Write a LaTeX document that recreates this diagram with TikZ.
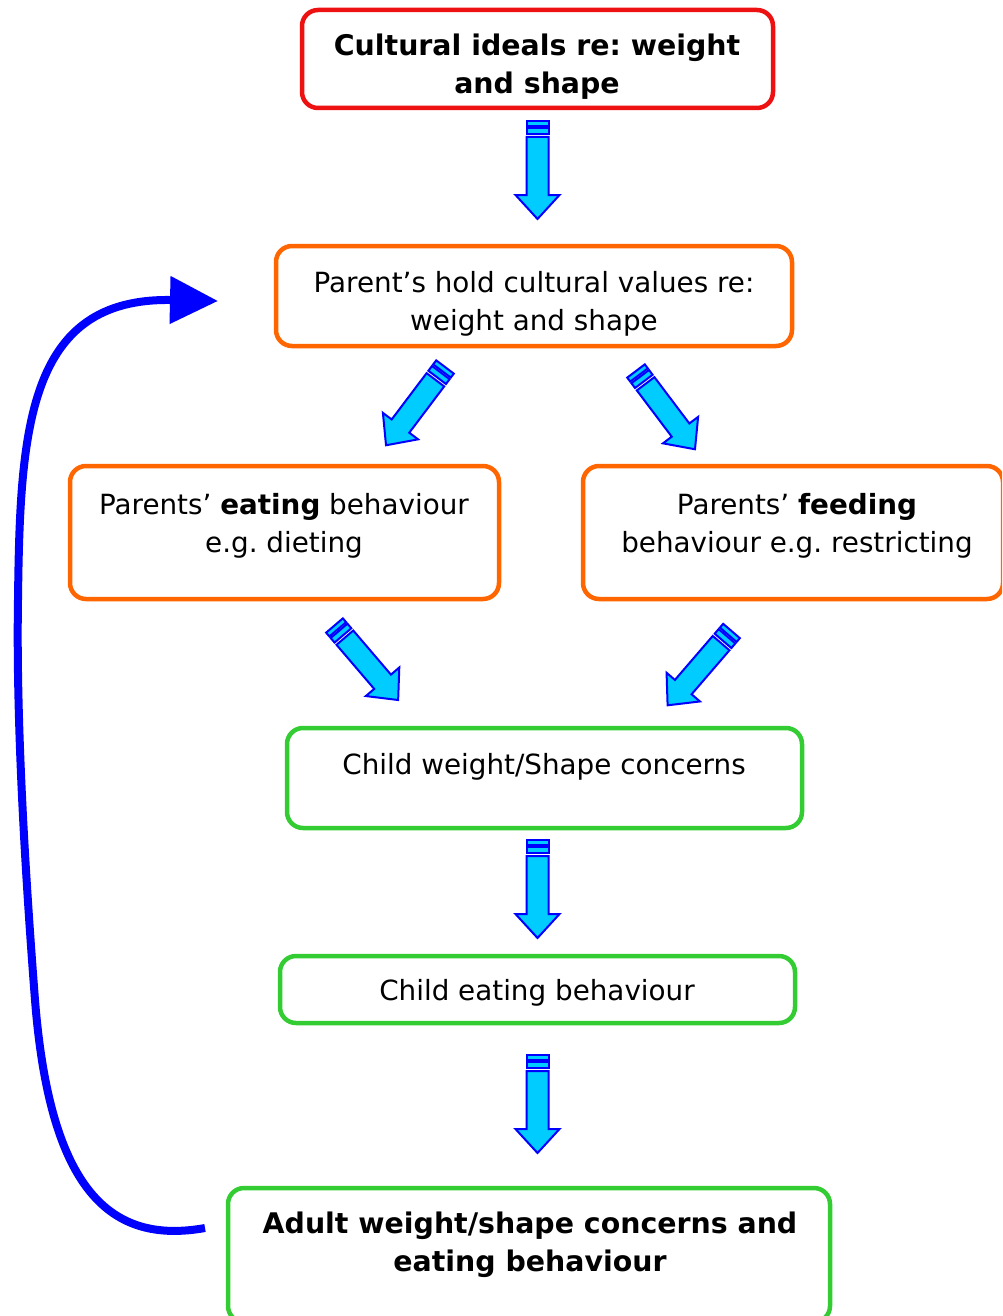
\documentclass[tikz,border=0pt]{standalone}
\usepackage{fontspec}
\setmainfont{DejaVu Sans}
\usetikzlibrary{arrows.meta}
\definecolor{cRed}{HTML}{EE1111}
\definecolor{cOrange}{HTML}{FF6600}
\definecolor{cGreen}{HTML}{33CC33}
\definecolor{cCyan}{HTML}{00CCFF}
\definecolor{cBlue}{HTML}{0000FF}
\frenchspacing
\begin{document}
\begin{tikzpicture}[x=1pt,y=-1pt,
  box/.style={draw=#1, line width=4.5pt, rounded corners=16pt, minimum width=0pt, inner sep=0pt},
  txt/.style={align=center, inner sep=0pt, font=\fontsize{27.8}{38}\selectfont},
  btxt/.style={align=center, inner sep=0pt, font=\fontsize{28.4}{38}\selectfont\bfseries},
  barrow/.style={draw=cBlue, fill=cCyan, line width=2pt, line join=miter},
  blockarr/.pic={
    \path[barrow] (-11,0) rectangle (11,5);
    \path[barrow] (-11,7) rectangle (11,13);
    \path[barrow] (-11,16) -- (-11,74) -- (-22,74) -- (0,98) -- (22,74) -- (11,74) -- (11,16) -- cycle;
  }]
\useasboundingbox (0,0) rectangle (1002,1316);
\clip (0,0) rectangle (1002,1316);

% boxes
\node[box=cRed, minimum width=471pt, minimum height=98pt] (cult) at (537.5,59) {};
\node[btxt] (cult-t) at (537,67) {Cultural ideals re: weight\\and shape};

\node[box=cOrange, minimum width=516pt, minimum height=100pt] (par) at (534,296) {};
\node[txt] (par-t) at (534,304) {Parent’s hold cultural values re:\\weight and shape};

\node[box=cOrange, minimum width=429pt, minimum height=133pt] (eat) at (284.5,532.5) {};
\node[txt] (eat-t) at (284,526) {Parents’ \textbf{eating} behaviour\\e.g. dieting};

\node[box=cOrange, minimum width=420pt, minimum height=133pt] (feed) at (793,532.5) {};
\node[txt] (feed-t) at (797,526) {Parents’ \textbf{feeding}\\behaviour e.g. restricting};

\node[box=cGreen, minimum width=515pt, minimum height=100pt] (cws) at (544.5,778) {};
\node[txt] (cws-t) at (544,767) {Child weight/Shape concerns};

\node[box=cGreen, minimum width=515pt, minimum height=67pt] (ceb) at (537.5,989.5) {};
\node[txt] (ceb-t) at (537,993) {Child eating behaviour};

\node[box=cGreen, minimum width=602pt, minimum height=134pt] (adult) at (529,1255) {};
\node[btxt] (adult-t) at (530,1245) {Adult weight/shape concerns and\\eating behaviour};

% block arrows
\pic at (537.5,121) {blockarr};
\pic[rotate=-37] at (445,367) {blockarr};
\pic[rotate=37] at (636,371) {blockarr};
\pic[rotate=40.5] at (334.5,625.5) {blockarr};
\pic[rotate=-40.7] at (731.5,631) {blockarr};
\pic at (537.5,840) {blockarr};
\pic at (537.5,1055) {blockarr};

% feedback arrow
\coordinate (fbStart) at (205,1228);
\coordinate (fbEnd) at (218,301);
\draw[cBlue, line width=8pt, -{Triangle[length=48pt,width=46pt]}]
  (fbStart) .. controls (110,1245) and (50,1190) .. (35,1000)
  .. controls (25,870) and (16,720) .. (18,600)
  .. controls (20,430) and (27,297) .. (fbEnd);
\end{tikzpicture}
\end{document}
